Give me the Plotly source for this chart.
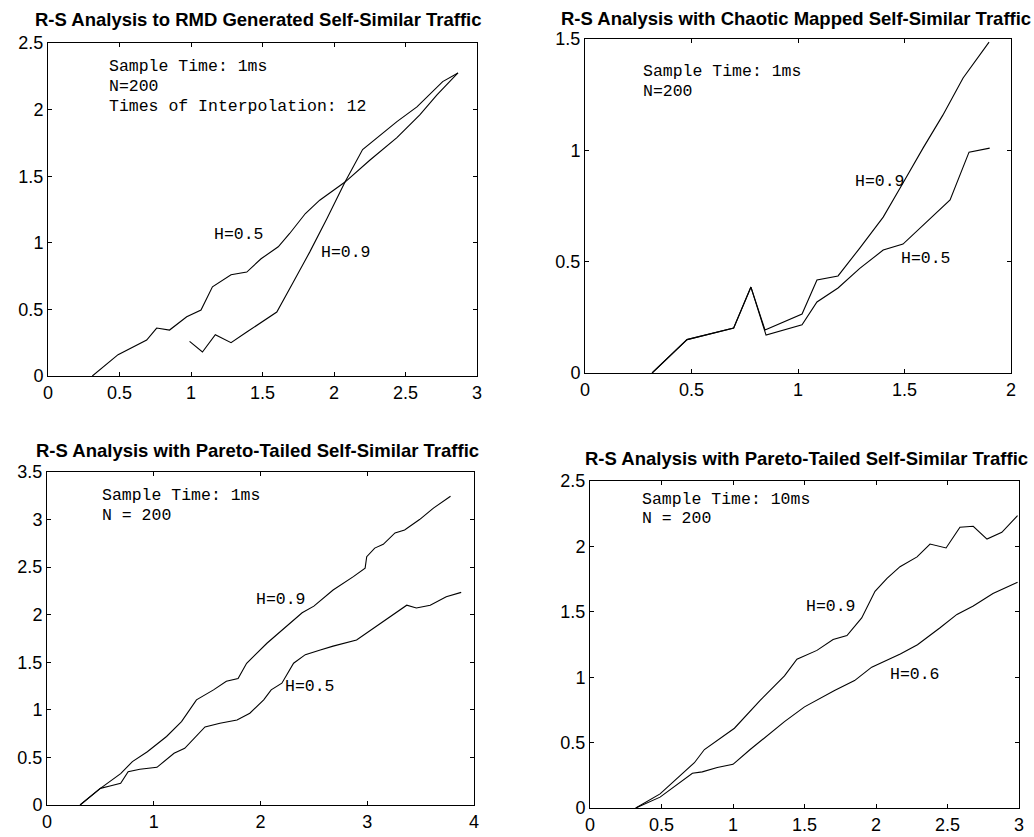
import plotly.graph_objects as go

# ---------------- data ----------------
# Panel 1: RMD generated traffic
p1_x_h05 = [0.31, 0.49, 0.69, 0.76, 0.85, 0.97, 1.07, 1.15, 1.28, 1.39, 1.49, 1.61, 1.69, 1.80, 1.90, 2.077, 2.25, 2.44, 2.60, 2.72, 2.867]
p1_y_h05 = [0.0, 0.16, 0.27, 0.36, 0.345, 0.445, 0.495, 0.67, 0.76, 0.78, 0.88, 0.97, 1.07, 1.22, 1.32, 1.456, 1.62, 1.79, 1.96, 2.11, 2.275]
p1_x_h09 = [0.99, 1.08, 1.17, 1.28, 1.39, 1.60, 1.71, 1.83, 1.95, 2.077, 2.20, 2.30, 2.44, 2.58, 2.76, 2.867]
p1_y_h09 = [0.26, 0.18, 0.31, 0.25, 0.33, 0.48, 0.695, 0.93, 1.18, 1.456, 1.70, 1.79, 1.91, 2.02, 2.21, 2.275]

# Panel 2: chaotic mapped traffic
p2_x_h09 = [0.315, 0.479, 0.698, 0.779, 0.845, 1.019, 1.089, 1.188, 1.29, 1.40, 1.493, 1.587, 1.68, 1.775, 1.897]
p2_y_h09 = [0.0, 0.15, 0.202, 0.386, 0.193, 0.265, 0.418, 0.436, 0.561, 0.70, 0.853, 1.01, 1.158, 1.325, 1.486]
p2_x_h05 = [0.315, 0.479, 0.698, 0.779, 0.85, 1.019, 1.089, 1.188, 1.29, 1.40, 1.493, 1.606, 1.714, 1.803, 1.90]
p2_y_h05 = [0.0, 0.15, 0.202, 0.386, 0.17, 0.216, 0.319, 0.382, 0.47, 0.552, 0.579, 0.678, 0.777, 0.992, 1.01]

# Panel 3: Pareto-tailed traffic, 1ms
p3_x_h09 = [0.31, 0.5, 0.69, 0.8, 0.94, 1.12, 1.26, 1.40, 1.56, 1.68, 1.79, 1.87, 2.06, 2.22, 2.39, 2.5, 2.68, 2.87, 2.98, 2.995, 3.07, 3.15, 3.26, 3.35, 3.49, 3.62, 3.78]
p3_y_h09 = [0.0, 0.175, 0.33, 0.456, 0.56, 0.72, 0.877, 1.105, 1.21, 1.30, 1.33, 1.49, 1.70, 1.86, 2.02, 2.09, 2.26, 2.40, 2.49, 2.61, 2.70, 2.74, 2.86, 2.89, 3.0, 3.12, 3.245]
p3_x_h05 = [0.31, 0.5, 0.59, 0.69, 0.76, 0.87, 1.03, 1.19, 1.29, 1.40, 1.48, 1.62, 1.78, 1.90, 2.03, 2.10, 2.20, 2.31, 2.42, 2.56, 2.68, 2.90, 3.06, 3.21, 3.37, 3.46, 3.59, 3.74, 3.88]
p3_y_h05 = [0.0, 0.175, 0.2, 0.228, 0.35, 0.375, 0.396, 0.544, 0.596, 0.72, 0.82, 0.86, 0.894, 0.965, 1.105, 1.21, 1.28, 1.49, 1.58, 1.63, 1.67, 1.735, 1.86, 1.98, 2.1, 2.07, 2.10, 2.19, 2.235]

# Panel 4: Pareto-tailed traffic, 10ms
p4_x_h09 = [0.32, 0.49, 0.73, 0.80, 1.01, 1.19, 1.36, 1.447, 1.587, 1.70, 1.797, 1.90, 1.993, 2.077, 2.168, 2.287, 2.378, 2.49, 2.587, 2.68, 2.776, 2.88, 2.99]
p4_y_h09 = [0.0, 0.108, 0.346, 0.447, 0.61, 0.823, 1.01, 1.137, 1.205, 1.288, 1.318, 1.453, 1.657, 1.755, 1.845, 1.92, 2.018, 1.988, 2.146, 2.154, 2.056, 2.108, 2.235]
p4_x_h06 = [0.32, 0.49, 0.716, 0.785, 0.89, 1.0, 1.12, 1.24, 1.36, 1.50, 1.71, 1.85, 1.97, 2.17, 2.29, 2.448, 2.566, 2.68, 2.818, 2.99]
p4_y_h06 = [0.0, 0.083, 0.266, 0.276, 0.309, 0.334, 0.447, 0.552, 0.66, 0.773, 0.899, 0.974, 1.077, 1.177, 1.248, 1.378, 1.48, 1.544, 1.64, 1.725]

titles = [
    "R-S Analysis to RMD Generated Self-Similar Traffic",
    "R-S Analysis with Chaotic Mapped Self-Similar Traffic",
    "R-S Analysis with Pareto-Tailed Self-Similar Traffic",
    "R-S Analysis with Pareto-Tailed Self-Similar Traffic",
]
x_ranges = [[0, 3], [0, 2], [0, 4], [0, 3]]
y_ranges = [[0, 2.5], [0, 1.5], [0, 3.5], [0, 2.5]]
x_dticks = [0.5, 0.5, 1, 0.5]
y_dticks = [0.5, 0.5, 0.5, 0.5]

info_texts = [
    ["Sample Time: 1ms", "N=200", "Times of Interpolation: 12"],
    ["Sample Time: 1ms", "N=200"],
    ["Sample Time: 1ms", "N = 200"],
    ["Sample Time: 10ms", "N = 200"],
]
info_pos = [
    (0.41, [2.322, 2.172, 2.022]),
    (0.263, [1.353, 1.263]),
    (0.496, [3.248, 3.04]),
    (0.352, [2.357, 2.211]),
]
curve_labels = [
    [("H=0.5", 1.145, 1.059), ("H=0.9", 1.897, 0.929)],
    [("H=0.9", 1.26, 0.859), ("H=0.5", 1.476, 0.515)],
    [("H=0.9", 1.939, 2.165), ("H=0.5", 2.214, 1.243)],
    [("H=0.9", 1.494, 1.541), ("H=0.6", 2.082, 1.019)],
]

# ---------------- layout geometry (pixels of the 1034x837 page) ----------------
W, H = 1034, 837
boxes = [  # left, right, top, bottom
    (48, 477, 43, 376),
    (585, 1011, 39, 373),
    (47, 474, 472, 805),
    (590, 1019, 481, 808),
]
title_pos = [(258, 20), (796, 18.5), (257, 450), (806, 458.5)]

fig = go.Figure()

series = [
    [(p1_x_h05, p1_y_h05), (p1_x_h09, p1_y_h09)],
    [(p2_x_h09, p2_y_h09), (p2_x_h05, p2_y_h05)],
    [(p3_x_h09, p3_y_h09), (p3_x_h05, p3_y_h05)],
    [(p4_x_h09, p4_y_h09), (p4_x_h06, p4_y_h06)],
]

mono = "Liberation Mono, Courier New, monospace"
sans = "Liberation Sans, Arial, sans-serif"

annotations = []
layout_axes = {}
for i in range(4):
    n = "" if i == 0 else str(i + 1)
    xa, ya = "x" + n, "y" + n
    for xs, ys in series[i]:
        fig.add_trace(go.Scatter(x=xs, y=ys, mode="lines", xaxis=xa, yaxis=ya,
                                 line=dict(color="black", width=1.1),
                                 showlegend=False, hoverinfo="skip"))
    l, r, t, b = boxes[i]
    common = dict(showline=True, linecolor="black", linewidth=1, mirror="ticks",
                  ticks="inside", ticklen=4, tickwidth=1, tickcolor="black",
                  showgrid=False, zeroline=False, tickmode="linear", tick0=0,
                  automargin=False,
                  tickfont=dict(family=sans, size=18, color="black"))
    layout_axes["xaxis" + n] = dict(common, domain=[l / W, r / W], range=x_ranges[i],
                                    dtick=x_dticks[i], anchor=ya)
    layout_axes["yaxis" + n] = dict(common, domain=[1 - b / H, 1 - t / H], range=y_ranges[i],
                                    dtick=y_dticks[i], anchor=xa)
    tx, ty = title_pos[i]
    annotations.append(dict(text=titles[i], x=tx / W, y=1 - ty / H, xref="paper", yref="paper",
                            xanchor="center", yanchor="middle", showarrow=False,
                            font=dict(family=sans, size=18.5, color="black", weight="bold")))
    ix, iys = info_pos[i]
    for txt, iy in zip(info_texts[i], iys):
        annotations.append(dict(text=txt, x=ix, y=iy, xref=xa, yref=ya, xanchor="left",
                                yanchor="middle", showarrow=False,
                                font=dict(family=mono, size=16.5, color="black")))
    for txt, lx, ly in curve_labels[i]:
        annotations.append(dict(text=txt, x=lx, y=ly, xref=xa, yref=ya, xanchor="left",
                                yanchor="middle", showarrow=False,
                                font=dict(family=mono, size=16.5, color="black")))

fig.update_layout(width=W, height=H, autosize=False,
                  margin=dict(l=0, r=0, t=0, b=0, autoexpand=False),
                  paper_bgcolor="white", plot_bgcolor="white",
                  annotations=annotations, **layout_axes)

fig.write_html("out.html",
               config={"displayModeBar": False, "staticPlot": True},
               post_script="document.body.style.margin='0px';"
                           "document.body.style.overflow='hidden';")
